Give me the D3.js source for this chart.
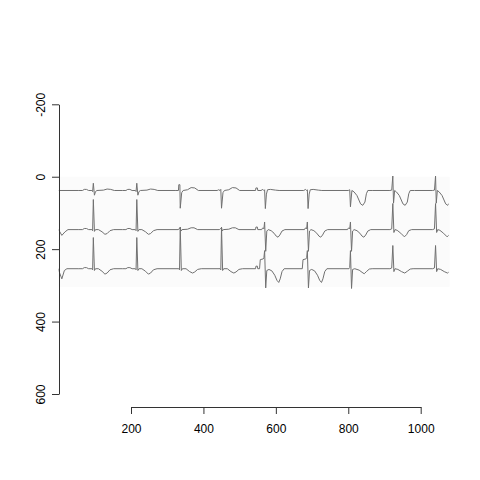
<!DOCTYPE html>
<html>
<head>
<meta charset="utf-8">
<script src="https://cdn.jsdelivr.net/npm/d3@7"></script>
<style>
  body { margin: 0; background: #fff; }
  svg { display: block; font-family: "Liberation Sans", Arial, sans-serif; }
</style>
</head>
<body>
<div id="chart"></div>
<script>
// tick values
const xTicks = [200, 400, 600, 800, 1000];
const yTicks = [-200, 0, 200, 400, 600];

// extent of the strip image, in plot units
const imageX = [0, 1080];
const imageY = [0, 304];
const traceEnd = 1077;

// baseline of each lead row (plot units, y grows downward)
const rowBase = [38, 146, 254];

// beat shapes: [dx, amplitude], amplitude > 0 is up
const shapes = {
  I:    [[-40,0],[-30,0],[-25,3],[-19,3],[-13,0],[-4,0],[-2,-3],[0,20],[3,-13],[6,-3],[10,0],[28,1],[38,4],[48,3],[58,0]],
  aVRm: [[-12,0],[-5,0],[-4,16],[-1,16],[0,-49],[4,-6],[8,0],[20,2],[30,8],[40,7],[50,0]],
  aVR:  [[-12,0],[-8,2],[-4,0],[-2,3],[0,-49],[4,-6],[8,0],[20,2],[30,8],[40,7],[50,0]],
  V1:   [[-10,0],[-5,3],[-2,0],[0,2],[2,-50],[5,-10],[8,2],[16,3],[30,1],[40,0]],
  V1T:  [[-6,0],[-2,2],[0,-45],[4,0],[10,-4],[18,-14],[28,-37],[34,-41],[40,-32],[44,-9],[48,0],[60,0]],
  V4:   [[-8,0],[-3,1],[0,40],[2,-35],[5,0],[10,-4],[18,-14],[28,-37],[34,-41],[40,-32],[44,-9],[48,0],[60,0]],
  dip2: [[-9,0],[0,-16],[9,-6],[17,0]],
  II:   [[-40,0],[-30,0],[-25,3],[-19,3],[-13,0],[-4,0],[-2,-3],[0,83],[3,-5],[6,0],[14,0],[24,-6],[32,-13],[38,-11],[46,-3],[56,0]],
  aVL:  [[-6,0],[-3,2],[0,6],[2,-4],[5,0],[20,1],[30,5],[38,5],[48,0]],
  V2:   [[-8,0],[-6,4],[-3,4],[-2,2],[0,21],[3,-60],[6,-4],[10,0],[18,-3],[26,-10],[32,-18],[37,-21],[42,-15],[48,-4],[56,0]],
  V5:   [[-8,0],[-3,2],[0,72],[3,-8],[6,0],[12,-2],[22,-10],[32,-20],[38,-14],[44,-3],[52,0]],
  dip3: [[-9,-4],[0,-28],[7,-5],[14,0]],
  III:  [[-40,0],[-30,0],[-25,3],[-19,3],[-13,0],[-4,0],[-2,-3],[0,86],[3,-5],[6,0],[14,0],[24,-7],[32,-15],[38,-12],[46,-3],[56,0]],
  aVF:  [[-4,0],[-2,-3],[0,115],[3,-5],[6,0],[16,0],[26,-8],[34,-12],[40,-9],[48,-2],[58,0]],
  V3:   [[-14,0],[-12,25],[-4,27],[-2,30],[0,50],[3,-53],[6,-5],[12,-2],[20,-6],[28,-18],[34,-32],[39,-38],[43,-28],[48,-8],[54,0]],
  V3b:  [[-4,0],[-2,3],[0,50],[3,-55],[6,-2],[12,0],[24,-4],[32,-10],[38,-14],[44,-8],[52,-1],[60,0]],
  V6:   [[-8,0],[-3,2],[0,64],[3,-8],[6,0],[14,-2],[24,-8],[33,-12],[40,-7],[48,-1],[56,0]],
  mk:   [[-3,0],[-2,7],[2,7],[3,0]]
};

// beat positions per row: [x of R wave, shape]
const row1Beats = [[96,"I"],[216,"I"],[336,"aVRm"],[450,"aVR"],[547,"mk"],[569,"V1"],[687,"V1"],[806,"V1T"],[923,"V4"],[1041,"V4"]];
const row2Beats = [[9,"dip2"],[96,"II"],[216,"II"],[336,"aVL"],[450,"aVL"],[547,"mk"],[569,"V2"],[687,"V2"],[806,"V2"],[923,"V5"],[1041,"V5"]];
const row3Beats = [[9,"dip3"],[96,"III"],[216,"III"],[336,"aVF"],[450,"aVF"],[547,"mk"],[569,"V3"],[687,"V3"],[806,"V3b"],[923,"V6"],[1041,"V6"]];

const width = 480, height = 480;

const svg = d3.select("#chart").append("svg")
    .attr("width", width)
    .attr("height", height);

// x and y share the same units per pixel (asp = 1)
const x = d3.scaleLinear().domain([200, 1000]).range([131, 420.7]);
const y = d3.scaleLinear().domain([-200, 600]).range([104.3, 394]);

// faint image background
svg.append("rect")
    .attr("x", x(imageX[0]))
    .attr("y", y(imageY[0]))
    .attr("width", x(imageX[1]) - x(imageX[0]))
    .attr("height", y(imageY[1]) - y(imageY[0]))
    .attr("fill", "#fbfbfb");

svg.append("defs").append("clipPath")
    .attr("id", "clip")
  .append("rect")
    .attr("x", x(imageX[0]))
    .attr("y", y(imageY[0]) - 2)
    .attr("width", x(traceEnd) - x(imageX[0]))
    .attr("height", y(imageY[1]) - y(imageY[0]) + 4);

// turn a beat list into trace points
function tracePoints(beats, base) {
  const pts = [[imageX[0], base]];
  beats.forEach(([bx, name]) => {
    shapes[name].forEach(([dx, amp]) => pts.push([bx + dx, base - amp]));
  });
  pts.push([imageX[1], base]);
  return pts;
}

const line = d3.line()
    .x(d => x(d[0]))
    .y(d => y(d[1]));

const traces = svg.append("g").attr("clip-path", "url(#clip)");
[row1Beats, row2Beats, row3Beats].forEach((beats, i) => {
  traces.append("path")
      .datum(tracePoints(beats, rowBase[i]))
      .attr("d", line)
      .attr("fill", "none")
      .attr("stroke", "#707070")
      .attr("stroke-width", 1)
      .attr("stroke-linejoin", "round");
});

// axes, R style
const xAxis = svg.append("g")
    .attr("transform", "translate(0,407)")
    .call(d3.axisBottom(x).tickValues(xTicks).tickSize(7).tickSizeOuter(0).tickPadding(10).tickFormat(d => String(d)));

const yAxis = svg.append("g")
    .attr("transform", "translate(59,0)")
    .call(d3.axisLeft(y).tickValues(yTicks).tickSize(7).tickSizeOuter(0).tickFormat(d => String(d)));

yAxis.selectAll(".tick text")
    .attr("x", null)
    .attr("dy", null)
    .attr("text-anchor", "middle")
    .attr("transform", "translate(-14.5,0) rotate(-90)");

[xAxis, yAxis].forEach(g => {
  g.selectAll("text").attr("font-size", 12).attr("fill", "#000")
    .attr("font-family", "'Liberation Sans', Arial, sans-serif");
  g.selectAll("line, path").attr("stroke", "#333");
});
</script>
</body>
</html>
